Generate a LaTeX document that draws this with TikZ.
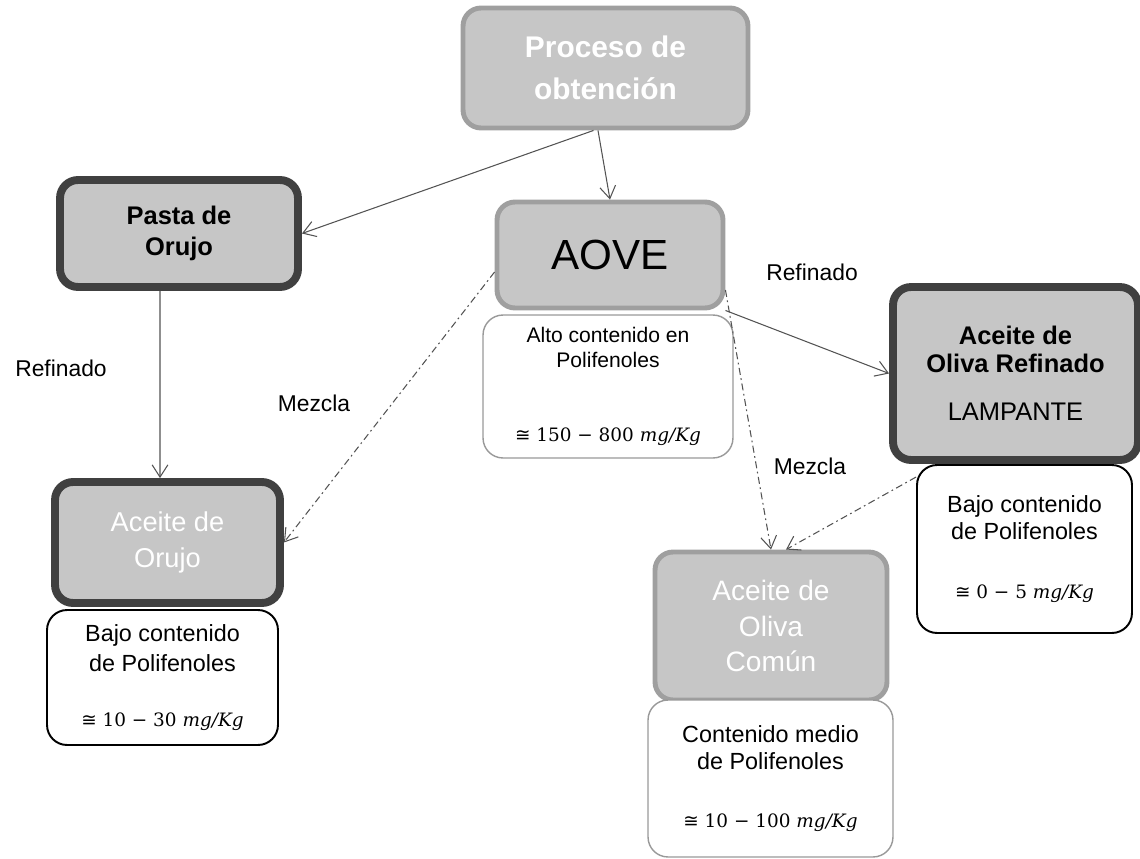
\documentclass[tikz,border=0pt]{standalone}
\usepackage{amsmath,amssymb}
\usepackage{fontspec}
\setmainfont{Liberation Sans}
\newfontfamily\cifras{DejaVu Serif}
\newfontfamily\simbolo{DejaVu Sans}
\usetikzlibrary{arrows.meta}
\newcommand{\valor}[1]{{\cifras\fontsize{10.5}{14}\selectfont{\simbolo ≅} #1 \textit{mg/Kg}}}

\begin{document}
\begin{tikzpicture}
[
    x = 0.02cm, y = -0.02cm,
    caja/.style = {rounded corners = 0.36cm, fill = gray!45, align = center, inner sep = 2pt},
    caja suave/.style = {caja, draw = gray!75, line width = 2.8pt},
    caja fuerte/.style = {caja, draw = black!75, line width = 4.5pt},
    nota/.style = {rounded corners = 0.4cm, draw = black, line width = 1.1pt, fill = white, align = center},
    nota suave/.style = {nota, draw = gray!80, line width = 0.8pt},
    flecha/.style = {draw = gray!65!black, line width = 0.6pt, -{Straight Barb[length = 7pt, width = 9pt]}},
    mezcla/.style = {flecha, dash pattern = on 4pt off 2pt on 1pt off 2pt},
    rotulo/.style = {font = \fontsize{13}{15}\selectfont}
]
\useasboundingbox (0,0) rectangle (1140,859);

\node[caja suave, minimum width = 5.7cm, minimum height = 2.4cm, text = white, font = \fontsize{17}{24}\selectfont\bfseries] (proceso) at (605.5,68) {Proceso de\\obtención};
\node[caja fuerte, minimum width = 4.76cm, minimum height = 2.14cm, font = \fontsize{14.5}{18}\selectfont\bfseries] (pasta) at (179,233.5) {Pasta de\\Orujo};
\node[caja suave, minimum width = 4.52cm, minimum height = 2.12cm, font = \fontsize{24}{28}\selectfont] (aove) at (610,255) {AOVE};
\node[nota suave, minimum width = 5cm, minimum height = 2.86cm, font = \fontsize{12}{14}\selectfont] (alto) at (608,386.5) {Alto contenido en\\Polifenoles\\[28pt]\valor{150 − 800}};
\node[caja fuerte, minimum width = 4.9cm, minimum height = 3.46cm, font = \fontsize{14.5}{15.5}\selectfont] (refinado) at (1015.5,373.5) {\textbf{Aceite de}\\\textbf{Oliva Refinado}\\[12pt]LAMPANTE};
\node[nota, minimum width = 4.3cm, minimum height = 3.36cm, font = \fontsize{13.3}{15.5}\selectfont] (bajoR) at (1024.5,549) {Bajo contenido\\de Polifenoles\\[18pt]\valor{0 − 5}};
\node[caja fuerte, minimum width = 4.5cm, minimum height = 2.42cm, text = white, font = \fontsize{15.5}{21}\selectfont] (orujo) at (167.5,542.5) {Aceite de\\Orujo};
\node[nota, minimum width = 4.62cm, minimum height = 2.7cm, font = \fontsize{13.3}{17}\selectfont] (bajoL) at (162.5,677.5) {Bajo contenido\\de Polifenoles\\[14pt]\valor{10 − 30}};
\node[caja suave, minimum width = 4.64cm, minimum height = 2.96cm, text = white, font = \fontsize{16}{20}\selectfont] (comun) at (771,626) {Aceite de\\Oliva\\Común};
\node[nota suave, minimum width = 4.9cm, minimum height = 3.14cm, font = \fontsize{13.3}{15.5}\selectfont] (medio) at (770.5,778.5) {Contenido medio\\de Polifenoles\\[17pt]\valor{10 − 100}};

\node[rotulo] (refinadoA) at (61,368) {Refinado};
\node[rotulo] (mezclaA) at (314,403) {Mezcla};
\node[rotulo] (refinadoB) at (812,272) {Refinado};
\node[rotulo] (mezclaB) at (810,466) {Mezcla};

\draw[flecha] ([xshift=-0.24cm]proceso.south) -- (pasta.east);
\draw[flecha] ([xshift=-0.15cm]proceso.south) -- (aove.north);
\draw[flecha] ([xshift=-0.38cm]pasta.south) -- ([xshift=-0.15cm]orujo.north);
\draw[mezcla] ([yshift=-0.34cm]aove.west) -- (orujo.east);
\draw[flecha] (aove.south east) -- (refinado.west);
\draw[mezcla] ([yshift=-0.7cm]aove.east) -- (comun.north);
\draw[mezcla] ([yshift=-0.26cm]bajoR.north west) -- ([xshift=0.3cm]comun.north);
\end{tikzpicture}
\end{document}
